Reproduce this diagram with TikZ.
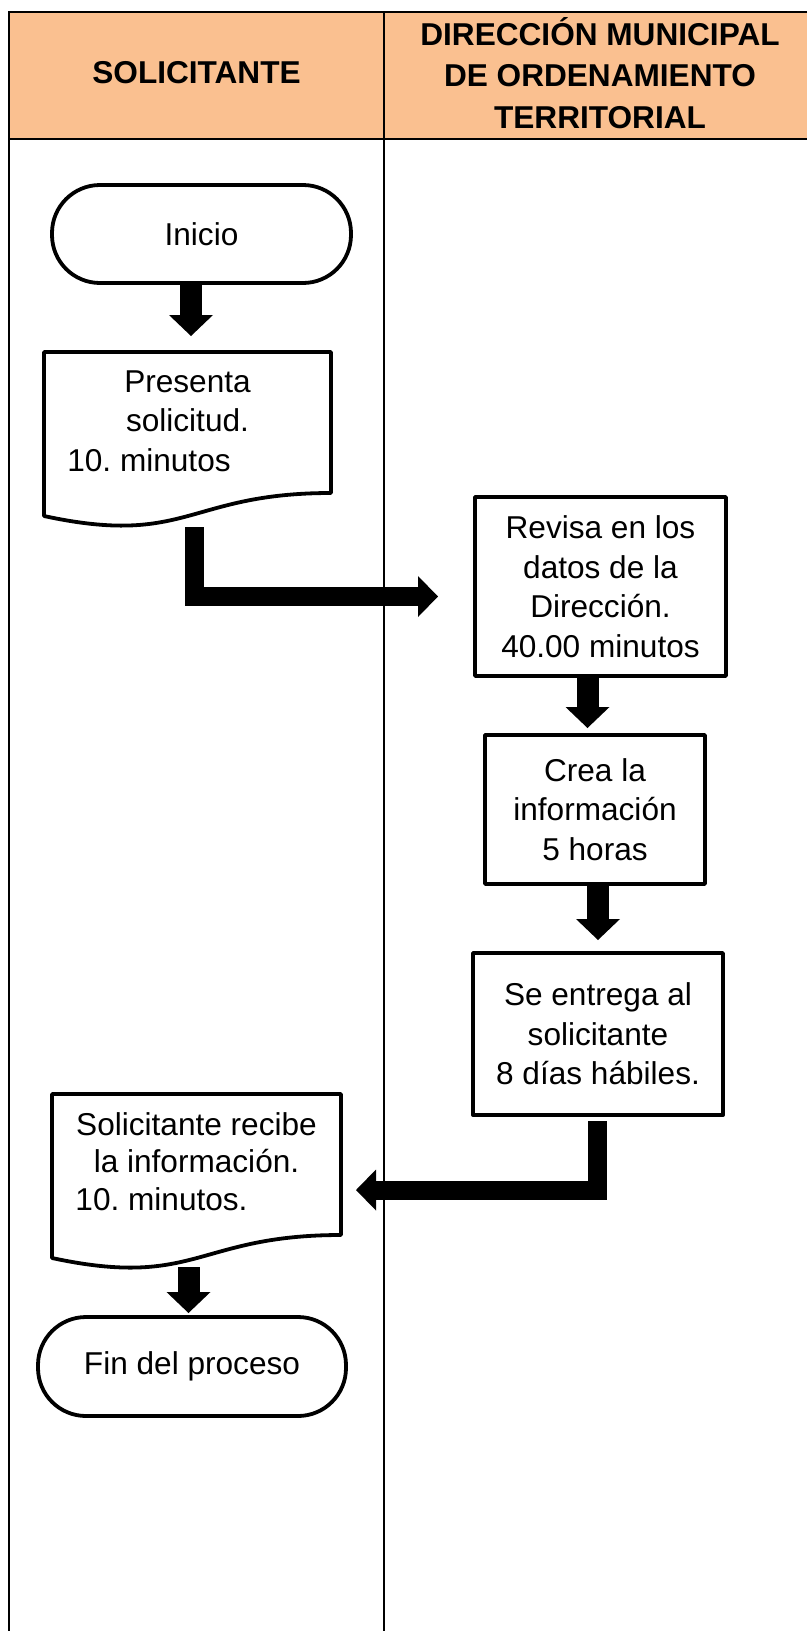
\documentclass[tikz,border=0pt]{standalone}
\usepackage{fontspec}
\setmainfont{Liberation Sans}
\usetikzlibrary{arrows.meta,calc}
\definecolor{headfill}{HTML}{FAC090}
\frenchspacing
\newcommand\drawdocshape[1]{%
  \draw[shapeline] (#1.north west) -- (#1.north east) -- ($(#1.north east)+(0,141)$)
    .. controls ($(#1.north)+(0,141)$) and ($(#1.north)+(0,195)$) .. ($(#1.north west)+(0,164)$) -- cycle;}
\begin{document}
\begin{tikzpicture}[x=1pt,y=-1pt,
  tableline/.style={line width=2.5pt},
  shapeline/.style={line width=3.8pt, line join=round},
  bodytext/.style={font=\fontsize{31.6pt}{39.5pt}\selectfont\frenchspacing, align=center, inner sep=0pt, outer sep=0pt},
  headtext/.style={font=\fontsize{31.6pt}{41.5pt}\selectfont\bfseries, align=center, inner sep=0pt, outer sep=0pt},
  terminal/.style={bodytext, draw, shapeline, rounded corners=48pt},
  procbox/.style={bodytext, draw, shapeline},
  docbox/.style={bodytext, minimum width=287pt, minimum height=138pt},
  blockarrow/.style={line width=22pt, -{Triangle[width=44pt,length=21pt,line width=0pt]}},
  bentarrow/.style={line width=19pt, line join=miter, -{Triangle[width=41pt,length=20pt,line width=0pt]}}
]
\useasboundingbox (0,0) rectangle (807,1631);
% table
\fill[headfill] (9,12) rectangle (807,139);
\draw[tableline] (807,12) -- (9,12) -- (9,1631);
\draw[tableline] (9,139) -- (807,139);
\draw[tableline] (384,12) -- (384,1631);
\node[headtext] (hsol) at (196.5,73) {SOLICITANTE};
\node[headtext] (hdir) at (600,73) {DIRECCIÓN MUNICIPAL\\DE ORDENAMIENTO\\TERRITORIAL};
% shapes
\node[terminal, minimum width=299pt, minimum height=98pt] (inicio) at (201.5,234) {Inicio};
\node[docbox] (presenta) at (187.5,421) {Presenta\\solicitud.\\\hspace*{-77pt}10. minutos};
\drawdocshape{presenta}
\node[procbox, minimum width=251pt, minimum height=179pt] (revisa) at (600.5,586.5) {Revisa en los\\datos de la\\Dirección.\\40.00 minutos};
\node[procbox, minimum width=220pt, minimum height=149pt] (crea) at (595,809.5) {Crea la\\información\\5 horas};
\node[procbox, minimum width=250pt, minimum height=162pt] (entrega) at (598,1034) {Se entrega al\\solicitante\\8 días hábiles.};
\node[docbox, minimum width=289pt, minimum height=135pt, font=\fontsize{31.6pt}{37.5pt}\selectfont\frenchspacing] (recibe) at (196.5,1161.5) {Solicitante recibe\\la información.\\\hspace*{-70pt}10. minutos.};
\drawdocshape{recibe}
\node[terminal, minimum width=308pt, minimum height=99pt] (fin) at (192,1366.5) {Fin del proceso};
% connectors
\draw[blockarrow] ([xshift=-10.5pt]inicio.south) -- ([xshift=3.5pt,yshift=16pt]presenta.north);
\draw[bentarrow] ([xshift=6.5pt,yshift=-37pt]presenta.south) |- ([xshift=-37pt,yshift=-10pt]revisa.west);
\draw[blockarrow] ([xshift=-13pt]revisa.south) -- ([xshift=-7.5pt,yshift=7pt]crea.north);
\draw[blockarrow] ([xshift=3pt]crea.south) -- ([yshift=13pt]entrega.north);
\draw[bentarrow] ([xshift=-0.5pt,yshift=-6pt]entrega.south) |- ([xshift=15pt,yshift=-28.5pt]recibe.east);
\draw[blockarrow] ([xshift=-8pt,yshift=-38pt]recibe.south) -- ([xshift=-3.5pt,yshift=4pt]fin.north);
\end{tikzpicture}
\end{document}
